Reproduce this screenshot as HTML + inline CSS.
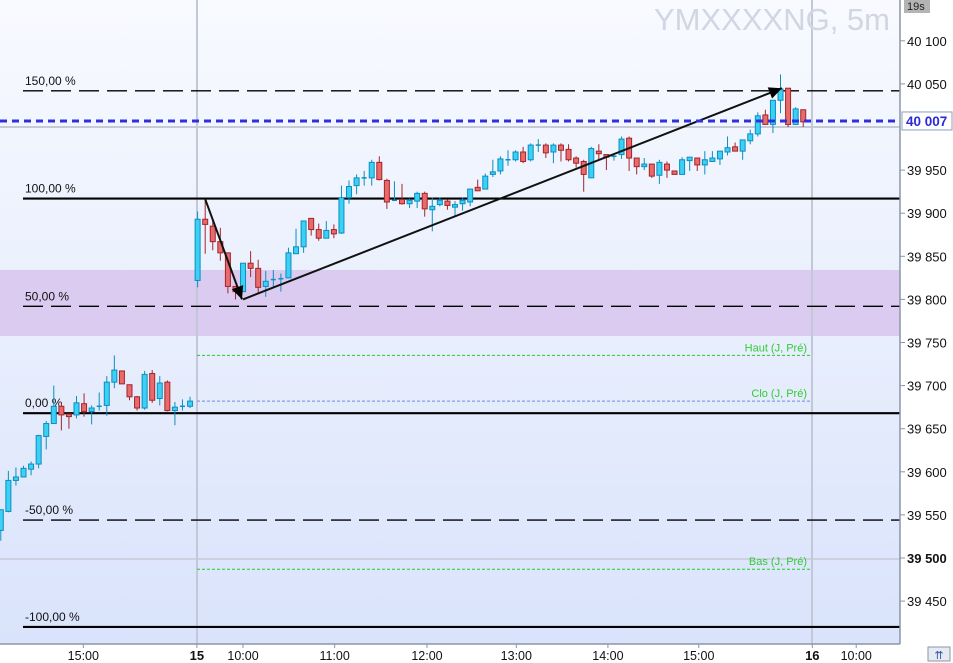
<!DOCTYPE html>
<html><head><meta charset="utf-8"><style>
html,body{margin:0;padding:0;width:953px;height:663px;overflow:hidden;background:#fff;font-family:"Liberation Sans",sans-serif}
svg{display:block}
</style></head><body>
<svg id="chart" width="953" height="663" xmlns="http://www.w3.org/2000/svg">
<defs><linearGradient id="bg" x1="0" y1="0" x2="0" y2="1"><stop offset="0" stop-color="#f8faff"/><stop offset="1" stop-color="#d9e3fb"/></linearGradient></defs>
<rect x="0" y="0" width="900" height="644" fill="url(#bg)"/>
<rect x="900" y="0" width="53" height="663" fill="#fff"/>
<rect x="0" y="644" width="900" height="19" fill="#fff"/>
<g id="layers"></g>
</svg>
<script>
// OHLC data (5m candles)
const opens  = [39532,39554,39590,39594,39603,39609,39641,39656,39676,39667,39666,39679,39670,39676,39677,39704,39717,39701,39687,39674,39714,39685,39704,39671,39676,39676,
39822,39893,39885,39867,39854,39815,39809,39842,39836,39815,39823,39824,39825,39853,39861,39894,39881,39871,39881,39877,39918,39932,39941,39941,39959,39938,39915,39916,39911,39914,39923,39904,39910,39914,39907,39911,39913,39930,39928,39945,39949,39962,
39962,39971,39962,39979,39979,39971,39979,39974,39964,39960,39941,39972,39968,39966,39968,39987,39964,39954,39957,39944,39957,39949,39945,39961,39964,39956,39960,39963,39971,39977,39972,39984,39992,40014,40003,40031,40045,40003,40020];
const highs  = [39535,39601,39605,39607,39612,39643,39659,39700,39681,39667,39688,39691,39677,39692,39711,39735,39717,39701,39688,39717,39718,39711,39706,39681,39684,39687,
39902,39916,39892,39883,39854,39815,39842,39856,39846,39833,39834,39830,39860,39882,39891,39894,39888,39891,39887,39932,39938,39945,39949,39962,39966,39940,39937,39934,39917,39925,39925,39918,39918,39916,39914,39918,39928,39939,39946,39962,39966,39973,
39973,39977,39981,39986,39981,39981,39981,39980,39966,39962,39977,39980,39968,39968,39989,39989,39964,39964,39957,39962,39960,39949,39965,39965,39964,39972,39972,39972,39989,39982,39985,39997,40017,40020,40031,40061,40045,40023,40020];
const lows   = [39520,39553,39584,39594,39596,39604,39626,39656,39648,39650,39662,39664,39655,39671,39665,39697,39702,39683,39671,39672,39680,39677,39670,39654,39671,39674,
39814,39853,39857,39845,39807,39800,39809,39826,39807,39803,39814,39809,39825,39853,39854,39874,39868,39871,39871,39876,39911,39922,39932,39932,39938,39905,39914,39910,39906,39906,39896,39879,39908,39904,39897,39903,39908,39926,39928,39942,39945,39955,
39960,39958,39960,39971,39964,39958,39960,39960,39953,39925,39941,39962,39950,39961,39963,39949,39945,39950,39941,39934,39941,39945,39945,39949,39949,39945,39960,39956,39967,39972,39962,39980,39989,40003,39993,40016,40000,40003,40000];
const closes = [39556,39590,39594,39604,39609,39642,39656,39676,39666,39664,39680,39670,39674,39676,39704,39718,39702,39687,39674,39713,39683,39703,39671,39675,39676,39682,
39893,39887,39867,39854,39815,39809,39842,39836,39814,39821,39823,39824,39854,39861,39891,39881,39871,39880,39876,39918,39931,39941,39941,39959,39939,39913,39915,39911,39915,39923,39905,39908,39915,39909,39910,39915,39928,39926,39943,39948,39963,39962,
39971,39960,39979,39979,39970,39979,39973,39962,39958,39945,39975,39969,39965,39966,39986,39964,39954,39957,39943,39959,39950,39945,39962,39965,39956,39962,39964,39972,39976,39972,39985,39992,40013,40003,40031,40044,40003,40021,40006];
const priceTicks = [40100,40050,40007,39950,39900,39850,39800,39750,39700,39650,39600,39550,39500,39450];
const tickText = ["40 100","40 050","","39 950","39 900","39 850","39 800","39 750","39 700","39 650","39 600","39 550","39 500","39 450"];
const fibPct = ["150,00 %","100,00 %","50,00 %","0,00 %","-50,00 %","-100,00 %"];
const fibLevels = [40042,39917,39792,39668,39544,39420];
const timeLabels = ["0","15:00","15","10:00","11:00","12:00","13:00","14:00","15:00","16","10:00"];
const timeIndex = [-1.1,10.9,25.9,32,44.1,56.3,68.1,80.2,92.2,107.2,113];
const lastPrice = 40007;

const NS="http://www.w3.org/2000/svg";
const g=document.getElementById('layers');
function yS(v){return 558-(v-39500)*0.862;}
function xS(i){return 0.8+i*7.57;}
function el(t,a,p){const e=document.createElementNS(NS,t);for(const k in a)e.setAttribute(k,a[k]);(p||g).appendChild(e);return e;}

let z=el('rect',{x:0,y:270,width:900,height:66,fill:'#dccbf0'});


let ln=el('line',{x1:0,y1:127,x2:900,y2:127,stroke:'#c6c9d6','stroke-width':2});


ln=el('line',{x1:0,y1:559,x2:900,y2:559,stroke:'#c6c9d6','stroke-width':1.5});


[197,812].forEach(x=>{const v=el('line',{x1:x,y1:0,x2:x,y2:644,stroke:'#c3c8d9','stroke-width':2});

});

let tt=el('text',{x:890,y:30,'text-anchor':'end','font-size':31,fill:'#d2d6e2'});tt.textContent='YMXXXXNG, 5m';



[["Haut (J, Pré)",39735,'#22cc22'],["Clo (J, Pré)",39682,'#6a8ae8'],["Bas (J, Pré)",39487,'#22cc22']].forEach(d=>{
 const y=yS(d[1]);
 const l=el('line',{x1:197,y1:y,x2:810,y2:y,stroke:d[2],'stroke-width':1,'stroke-dasharray':'3,2'});
 
 
 const t=el('text',{x:807,y:y-4,'text-anchor':'end','font-size':11,fill:'#33cc33'});t.textContent=d[0];
 
 
});

fibLevels.forEach((v,i)=>{
 const y=yS(v);const dashed=(i%2===0);
 const l=el('line',{x1:23,y1:y,x2:900,y2:y,stroke:'#000','stroke-width':dashed?1.3:2.2,'stroke-dasharray':dashed?'20,8':''});
 
 
 const t=el('text',{x:25,y:y-6,'font-size':12,fill:'#111'});t.textContent=fibPct[i];
 
 
});

for(let i=0;i<opens.length;i++){
 const o=opens[i],h=highs[i],l=lows[i],c=closes[i];const up=c>=o;
 const x=xS(i);const stroke=up?'#0b8ec0':'#a3242a';const fill=up?'#3bd0f4':'#e86a6a';
 const cg=el('g',{});
 
 
 el('line',{x1:x,y1:yS(h),x2:x,y2:yS(l),stroke:stroke,'stroke-width':1},cg);
 const yt=yS(Math.max(o,c)),yb=yS(Math.min(o,c));
 if(yb-yt<1.2) el('line',{x1:x-2.5,y1:yt,x2:x+2.5,y2:yt,stroke:stroke,'stroke-width':1.5},cg);
 else el('rect',{x:x-2.5,y:yt,width:5,height:yb-yt,fill:fill,stroke:stroke,'stroke-width':1},cg);
}

function arrow(x1,y1,x2,y2){
 const a=el('g',{});
 
 
 el('line',{x1:x1,y1:y1,x2:x2,y2:y2,stroke:'#111','stroke-width':2},a);
 const ang=Math.atan2(y2-y1,x2-x1),L=13,W=6;
 const bx=x2-L*Math.cos(ang),by=y2-L*Math.sin(ang);
 const px=-Math.sin(ang)*W,py=Math.cos(ang)*W;
 el('polygon',{points:`${x2},${y2} ${bx+px},${by+py} ${bx-px},${by-py}`,fill:'#000'},a);
}
arrow(205,yS(39917),242,yS(39800));
arrow(243,yS(39800),782,yS(40045));

ln=el('line',{x1:0,y1:yS(lastPrice),x2:900,y2:yS(lastPrice),stroke:'#2f2fe0','stroke-width':3,'stroke-dasharray':'7,5'});



ln=el('line',{x1:900,y1:0,x2:900,y2:644,stroke:'#8a96a8','stroke-width':1.5});


priceTicks.forEach((v,i)=>{
 if(!tickText[i])return;
 const y=yS(v);
 el('line',{x1:900,y1:y,x2:905,y2:y,stroke:'#8a96a8'});
 const t=el('text',{x:907,y:y+5,'font-size':13,fill:'#111','font-weight':v===39500?'bold':'normal'});t.textContent=tickText[i];
 
 
});
const lb=el('rect',{x:902,y:yS(lastPrice)-9,width:50,height:18,fill:'#fff',stroke:'#8aa0b8','stroke-width':1});


let lt=el('text',{x:906,y:yS(lastPrice)+5,'font-size':13.5,'font-weight':'bold',fill:'#2a2ad8'});lt.textContent='40 007';


const tb=el('rect',{x:904,y:0,width:26,height:13,fill:'#b4b4b4'});


lt=el('text',{x:907,y:10,'font-size':11,fill:'#222'});lt.textContent='19s';



ln=el('line',{x1:0,y1:644,x2:900,y2:644,stroke:'#8a96a8','stroke-width':1.5});


timeLabels.forEach((s,i)=>{
 const xx=xS(timeIndex[i]);
 el('line',{x1:xx,y1:644,x2:xx,y2:648,stroke:'#8a96a8'});
 const bold=(s==='15'||s==='16');
 const t=el('text',{x:xx,y:660,'text-anchor':'middle','font-size':bold?13:12.5,'font-weight':bold?'bold':'normal',fill:'#111'});t.textContent=s;
 
 
});
const sb=el('rect',{x:928,y:647,width:22,height:14,fill:'#e8eaf2',stroke:'#8a96a8'});


lt=el('text',{x:939,y:659,'text-anchor':'middle','font-size':11,fill:'#2a5ab0'});lt.textContent='⇈';


</script>
</body></html>
